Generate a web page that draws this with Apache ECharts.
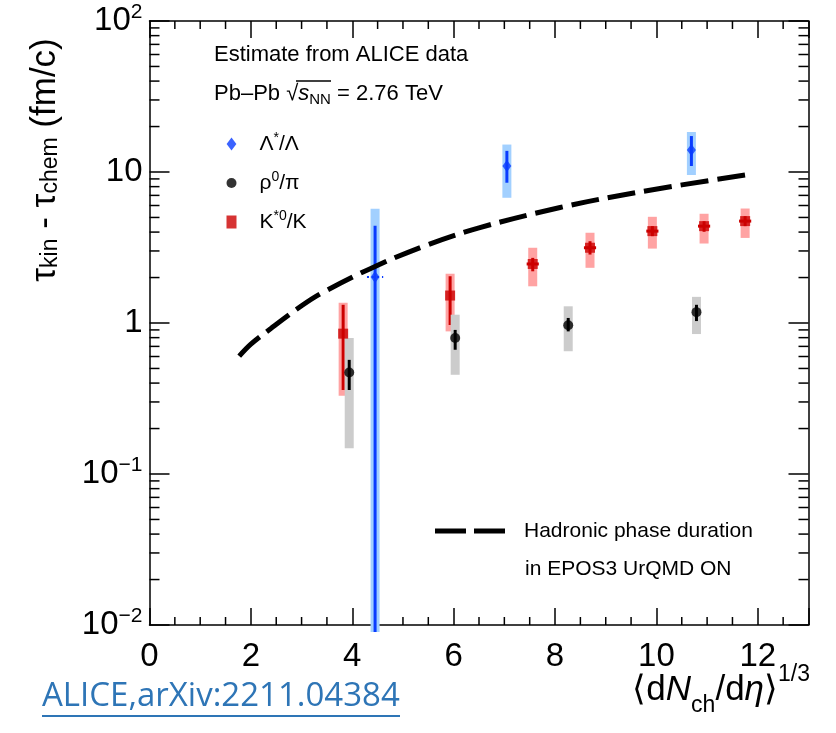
<!DOCTYPE html>
<html><head><meta charset="utf-8">
<script src="https://cdn.jsdelivr.net/npm/echarts@6/dist/echarts.min.js"></script>
<style>html,body{margin:0;padding:0;background:#fff}#c{width:836px;height:733px}</style>
</head><body><div id="c"></div>
<script>
// ---------- data ----------
const xTickLabels = ['0', '2', '4', '6', '8', '10', '12'];
const yTickExponents = [-2, -1, 0, 1, 2];

// Lambda*/Lambda
const lambdaX = [4.45, 7.05, 10.69];
const lambdaY = [2.02, 10.96, 14.0];
const lambdaStatLo = [0.009, 8.49, 10.96];
const lambdaStatHi = [4.4, 13.8, 17.3];
const lambdaSysLo = [0.009, 6.75, 9.55];
const lambdaSysHi = [5.7, 15.2, 18.4];
const lambdaXErr = [0.16, 0, 0];

// rho0/pi
const rhoX = [3.94, 6.03, 8.26, 10.79];
const rhoY = [0.47, 0.795, 0.965, 1.18];
const rhoStatLo = [0.36, 0.665, 0.88, 1.03];
const rhoStatHi = [0.57, 0.90, 1.08, 1.32];
const rhoSysLo = [0.148, 0.454, 0.65, 0.845];
const rhoSysHi = [0.795, 1.135, 1.29, 1.49];
const rhoXErr = [0, 0, 0, 0];

// K*0/K
const kX = [3.82, 5.93, 7.56, 8.69, 9.92, 10.94, 11.75];
const kY = [0.85, 1.52, 2.46, 3.15, 4.06, 4.38, 4.73];
const kStatLo = [0.36, 0.97, 2.20, 2.84, 3.76, 4.02, 4.38];
const kStatHi = [1.32, 2.04, 2.70, 3.48, 4.38, 4.72, 5.10];
const kSysLo = [0.33, 0.88, 1.75, 2.32, 3.11, 3.36, 3.66];
const kSysHi = [1.36, 2.12, 3.15, 3.96, 5.05, 5.29, 5.73];
const kXErr = [0, 0, 0.12, 0.12, 0.12, 0.12, 0.12];

// EPOS3 UrQMD hadronic phase duration
const eposX = [1.77, 2.0, 2.4, 3.0, 3.4, 4.45, 5.5, 6.5, 8.1, 9.7, 11.75];
const eposY = [0.603, 0.724, 0.923, 1.30, 1.58, 2.37, 3.31, 4.27, 5.82, 7.41, 9.55];

// ---------- helpers ----------
const FONT = "'Liberation Sans', Arial, Helvetica, sans-serif";
const X_MIN = 0, X_MAX = 13, Y_MIN = 0.01, Y_MAX = 100;

function errRows(xs, ys, sLo, sHi, yLo, yHi, xe) {
  return xs.map((x, i) => [x, ys[i], sLo[i], sHi[i], yLo[i], yHi[i], xe[i]]);
}
function pts(xs, ys) { return xs.map((x, i) => [x, ys[i]]); }

function errorRenderer(color, boxColor, dottedX) {
  return function (params, api) {
    const x = api.value(0), y = api.value(1);
    const c = api.coord([x, y]);
    const tLo = api.coord([x, api.value(2)]), tHi = api.coord([x, api.value(3)]);
    const sLo = api.coord([x, api.value(4)]), sHi = api.coord([x, api.value(5)]);
    const xe = api.value(6);
    const children = [
      { type: 'rect', shape: { x: c[0] - 4.5, y: sHi[1], width: 9, height: sLo[1] - sHi[1] },
        style: { fill: boxColor } },
      { type: 'line', shape: { x1: c[0], y1: tHi[1], x2: c[0], y2: tLo[1] },
        style: { stroke: color, lineWidth: 3 } }
    ];
    if (xe > 0) {
      const a = api.coord([x - xe, y]), b = api.coord([x + xe, y]);
      children.push({ type: 'line', shape: { x1: a[0], y1: c[1], x2: b[0], y2: c[1] },
        style: { stroke: color, lineWidth: dottedX ? 2 : 3, lineDash: dottedX ? [2, 3] : null } });
    }
    return { type: 'group', children };
  };
}

// minor tick values (axis decoration)
const xMinor = [];
for (let i = 1; i <= 25; i++) if (i % 4 !== 0) xMinor.push(i * 0.5);
const yMinor = [];
for (let e = -2; e <= 1; e++) for (let m = 2; m <= 9; m++) yMinor.push(m * Math.pow(10, e));
const tickRows = xMinor.map(v => [v, 1, 0]).concat(yMinor.map(v => [1, v, 1]));

const legendRich = {
  'Λ*/Λ': '{b|Λ}{sup|*}{b|/Λ}',
  'ρ0/π': '{b|ρ}{sup|0}{b|/π}',
  'K*0/K': '{b|K}{sup|*0}{b|/K}'
};

const axisLineStyle = { color: '#000', width: 1.5 };

const chart = echarts.init(document.getElementById('c'), null, { renderer: 'canvas' });
chart.setOption({
  backgroundColor: '#fff',
  animation: false,
  grid: { left: 149.5, right: 27.5, top: 21, bottom: 108, containLabel: false },
  xAxis: [
    { type: 'value', min: X_MIN, max: X_MAX, interval: 2, position: 'bottom',
      axisLine: { show: true, onZero: false, lineStyle: axisLineStyle },
      axisTick: { show: true, inside: true, length: 17, lineStyle: axisLineStyle },
      axisLabel: { margin: 15, fontSize: 33, color: '#000', fontFamily: FONT,
        formatter: v => xTickLabels.indexOf(String(v)) >= 0 ? String(v) : '' },
      splitLine: { show: false } },
    { type: 'value', min: X_MIN, max: X_MAX, interval: 2, position: 'top',
      axisLine: { show: true, onZero: false, lineStyle: axisLineStyle },
      axisTick: { show: true, inside: true, length: 17, lineStyle: axisLineStyle },
      axisLabel: { show: false }, splitLine: { show: false } }
  ],
  yAxis: [
    { type: 'log', logBase: 10, min: Y_MIN, max: Y_MAX, position: 'left',
      axisLine: { show: true, onZero: false, lineStyle: axisLineStyle },
      axisTick: { show: true, inside: true, length: 20, lineStyle: axisLineStyle },
      axisLabel: { margin: 7, color: '#000', fontFamily: FONT, fontSize: 33,
        formatter: v => {
          const e = Math.round(Math.log10(v));
          if (yTickExponents.indexOf(e) < 0) return '';
          if (e === 0) return '{b|1}';
          if (e === 1) return '{b|10}';
          return '{b|10}{sup|' + (e < 0 ? '\u2212' : '') + Math.abs(e) + '}';
        },
        rich: {
          b: { fontSize: 33, fontFamily: FONT, color: '#000', lineHeight: 38 },
          sup: { fontSize: 21, fontFamily: FONT, color: '#000', lineHeight: 14, verticalAlign: 'top' }
        } },
      splitLine: { show: false } },
    { type: 'log', logBase: 10, min: Y_MIN, max: Y_MAX, position: 'right',
      axisLine: { show: true, onZero: false, lineStyle: axisLineStyle },
      axisTick: { show: true, inside: true, length: 20, lineStyle: axisLineStyle },
      axisLabel: { show: false }, splitLine: { show: false } }
  ],
  legend: [
    { orient: 'vertical', left: 221.5, top: 126, itemWidth: 10, itemHeight: 13, itemGap: 13,
      data: ['Λ*/Λ', 'ρ0/π', 'K*0/K'],
      formatter: n => legendRich[n],
      textStyle: { fontSize: 21, fontFamily: FONT, color: '#000', lineHeight: 26, padding: [0, 0, 0, 18],
        rich: {
          b: { fontSize: 21, fontFamily: FONT, color: '#000', lineHeight: 26 },
          sup: { fontSize: 14, fontFamily: FONT, color: '#000', lineHeight: 12, verticalAlign: 'top' }
        } } },
    { orient: 'vertical', left: 430, top: 513, itemWidth: 70, itemHeight: 5,
      data: [{ name: 'Hadronic phase duration', icon: 'path://M0,0H31V5H0Z M39,0H70V5H39Z',
        itemStyle: { color: '#000', borderWidth: 0 } }],
      textStyle: { fontSize: 21, fontFamily: FONT, color: '#000', lineHeight: 26, padding: [0, 0, 0, 14] } }
  ],
  series: [
    { type: 'custom', name: '_ticks', xAxisIndex: 0, yAxisIndex: 0, silent: true, z: 1,
      data: tickRows, encode: { x: 0, y: 1 },
      renderItem: (params, api) => {
        const v0 = api.value(0), v1 = api.value(1), kind = api.value(2);
        const st = { stroke: '#000', lineWidth: 1.5 };
        if (kind === 0) {
          const b = api.coord([v0, Y_MIN]), t = api.coord([v0, Y_MAX]);
          return { type: 'group', children: [
            { type: 'line', shape: { x1: b[0], y1: b[1], x2: b[0], y2: b[1] - 8 }, style: st },
            { type: 'line', shape: { x1: t[0], y1: t[1], x2: t[0], y2: t[1] + 8 }, style: st } ] };
        }
        const l = api.coord([X_MIN, v1]), r = api.coord([X_MAX, v1]);
        return { type: 'group', children: [
          { type: 'line', shape: { x1: l[0], y1: l[1], x2: l[0] + 10, y2: l[1] }, style: st },
          { type: 'line', shape: { x1: r[0], y1: r[1], x2: r[0] - 10, y2: r[1] }, style: st } ] };
      } },
    { type: 'custom', name: '_kerr', z: 2, silent: true, encode: { x: 0, y: 1 },
      data: errRows(kX, kY, kStatLo, kStatHi, kSysLo, kSysHi, kXErr),
      renderItem: errorRenderer('#cc0000', '#ffa3a3', false) },
    { type: 'custom', name: '_rhoerr', z: 2, silent: true, encode: { x: 0, y: 1 },
      data: errRows(rhoX, rhoY, rhoStatLo, rhoStatHi, rhoSysLo, rhoSysHi, rhoXErr),
      renderItem: errorRenderer('#000000', '#cccccc', false) },
    { type: 'custom', name: '_lamerr', z: 2, silent: true, encode: { x: 0, y: 1 },
      data: errRows(lambdaX, lambdaY, lambdaStatLo, lambdaStatHi, lambdaSysLo, lambdaSysHi, lambdaXErr),
      renderItem: errorRenderer('#0a3cff', '#a2d0ff', true) },
    { type: 'line', name: 'Hadronic phase duration', z: 3, data: pts(eposX, eposY),
      smooth: 0.35, symbol: 'none', showSymbol: false,
      lineStyle: { color: '#000', width: 5, type: [28, 9] }, itemStyle: { color: '#000' } },
    { type: 'scatter', name: 'Λ*/Λ', z: 4, data: pts(lambdaX, lambdaY),
      symbol: 'path://M0,-6L4.5,0L0,6L-4.5,0Z', symbolSize: [9, 12], itemStyle: { color: '#0a3cff' } },
    { type: 'scatter', name: 'ρ0/π', z: 4, data: pts(rhoX, rhoY),
      symbol: 'circle', symbolSize: 10, itemStyle: { color: '#000' } },
    { type: 'scatter', name: 'K*0/K', z: 4, data: pts(kX, kY),
      symbol: 'rect', symbolSize: 10, itemStyle: { color: '#cc0000' } }
  ],
  graphic: [
    { type: 'text', x: 214, y: 55, style: { text: 'Estimate from ALICE data', fontSize: 22, fontFamily: FONT,
      fill: '#000', verticalAlign: 'middle' } },
    { type: 'text', x: 214, y: 94, style: { text: 'Pb\u2013Pb \u221A{it|s}{sub|NN} = 2.76 TeV', fontSize: 22,
      fontFamily: FONT, fill: '#000', verticalAlign: 'middle',
      rich: {
        it: { fontSize: 22, fontFamily: FONT, fontStyle: 'italic', fill: '#000', lineHeight: 26 },
        sub: { fontSize: 15, fontFamily: FONT, fill: '#000', lineHeight: 12, verticalAlign: 'bottom' }
      } } },
    { type: 'line', shape: { x1: 296, y1: 81, x2: 331, y2: 81 }, style: { stroke: '#000', lineWidth: 1.5 } },
    { type: 'text', x: 525, y: 569, style: { text: 'in EPOS3 UrQMD ON', fontSize: 21, fontFamily: FONT,
      fill: '#000', verticalAlign: 'middle' } },
    { type: 'text', x: 45, y: 160, rotation: Math.PI / 2,
      style: { text: '\u03C4{sub|kin} - \u03C4{sub|chem} (fm/c)', fontSize: 35, fontFamily: FONT, fill: '#000',
        align: 'center', verticalAlign: 'middle',
        rich: { sub: { fontSize: 23, fontFamily: FONT, fill: '#000', lineHeight: 14, verticalAlign: 'bottom' } } } },
    { type: 'text', x: 810, y: 690,
      style: { text: '\u27E8d{it|N}{sub|ch}/d{it|\u03B7}\u27E9{sup|1/3}', fontSize: 35, fontFamily: FONT, fill: '#000',
        align: 'right', verticalAlign: 'middle',
        rich: {
          it: { fontSize: 35, fontFamily: FONT, fontStyle: 'italic', fill: '#000', lineHeight: 54 },
          sub: { fontSize: 23, fontFamily: FONT, fill: '#000', lineHeight: 10, verticalAlign: 'bottom' },
          sup: { fontSize: 23, fontFamily: FONT, fill: '#000', lineHeight: 10, verticalAlign: 'top' }
        } } },
    { type: 'text', x: 42, y: 697, style: { text: 'ALICE,arXiv:2211.04384', fontSize: 33,
      fontFamily: "'Open Sans', 'Noto Sans', sans-serif", fill: '#2E75B6', verticalAlign: 'middle' } },
    { type: 'line', shape: { x1: 42, y1: 716, x2: 400, y2: 716 }, style: { stroke: '#2E75B6', lineWidth: 2 } }
  ]
});
</script>
</body></html>
